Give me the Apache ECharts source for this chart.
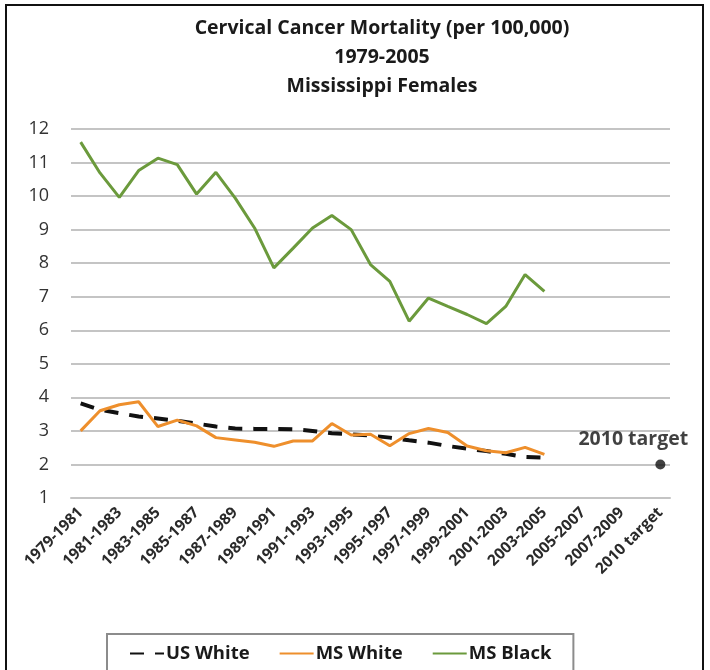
<!DOCTYPE html>
<html>
<head>
<meta charset="utf-8">
<script src="https://cdn.jsdelivr.net/npm/echarts@6/dist/echarts.min.js"></script>
<style>
  html, body { margin: 0; padding: 0; background: #fff; }
  #chart { width: 710px; height: 670px; }
</style>
</head>
<body>
<div id="chart"></div>
<script>
const periods = [
  '1979-1981', '1980-1982', '1981-1983', '1982-1984', '1983-1985', '1984-1986',
  '1985-1987', '1986-1988', '1987-1989', '1988-1990', '1989-1991', '1990-1992',
  '1991-1993', '1992-1994', '1993-1995', '1994-1996', '1995-1997', '1996-1998',
  '1997-1999', '1998-2000', '1999-2001', '2000-2002', '2001-2003', '2002-2004',
  '2003-2005', '2004-2006', '2005-2007', '2006-2008', '2007-2009', '2008-2010',
  '2010 target'
]

const usWhite = [3.82, 3.63, 3.53, 3.43, 3.37, 3.30, 3.22, 3.13, 3.07, 3.06, 3.06, 3.05, 3.0,
  2.93, 2.9, 2.86, 2.8, 2.72, 2.65, 2.55, 2.47, 2.4, 2.32, 2.22, 2.2]
const msWhite = [3.0, 3.6, 3.78, 3.87, 3.13, 3.32, 3.15, 2.8, 2.73, 2.66, 2.54, 2.7, 2.7,
  3.22, 2.88, 2.9, 2.56, 2.92, 3.07, 2.95, 2.55, 2.41, 2.35, 2.51, 2.3]
const msBlack = [11.61, 10.69, 9.96, 10.76, 11.13, 10.94, 10.06, 10.71, 9.94, 9.05, 7.86, 8.45, 9.05,
  9.42, 9.0, 7.96, 7.46, 6.27, 6.96, 6.71, 6.47, 6.2, 6.71, 7.66, 7.16]
const target = { period: '2010 target', value: 2 }

const font = 'Open Sans'
const textColor = '#1a1a1a'
const gridColor = '#c4c4c4'

const chart = echarts.init(document.getElementById('chart'))
chart.setOption({
  animation: false,
  textStyle: { fontFamily: font },
  title: {
    text: 'Cervical Cancer Mortality (per 100,000)\n1979-2005\nMississippi Females',
    left: 377, textAlign: 'center', top: 9,
    textStyle: { fontFamily: font, fontWeight: 'bold', fontSize: 19.5, lineHeight: 29, color: textColor }
  },
  graphic: [{
    type: 'rect',
    shape: { x: 6, y: 5, width: 697, height: 700 },
    style: { fill: 'none', stroke: '#111', lineWidth: 2 },
    silent: true
  }],
  legend: {
    data: ['US White', 'MS White', 'MS Black'],
    left: 107, top: 634,
    padding: [10, 22, 14, 22],
    borderColor: '#8c8c8c', borderWidth: 2,
    itemWidth: 34, itemHeight: 10, itemGap: 29,
    itemStyle: { opacity: 0 },
    textStyle: { fontFamily: font, fontWeight: 'bold', fontSize: 18.5, color: textColor, padding: [0, 0, 0, -3] }
  },
  grid: { left: 71, right: 40, top: 129, bottom: 172 },
  xAxis: {
    type: 'category',
    data: periods,
    boundaryGap: true,
    axisLine: { lineStyle: { color: gridColor, width: 2 } },
    axisTick: { interval: 0, length: 5, lineStyle: { color: gridColor, width: 2 } },
    axisLabel: {
      interval: 1, rotate: 45, margin: 12,
      fontFamily: font, fontSize: 15.5, fontWeight: 'bold', color: '#2a2a2a'
    }
  },
  yAxis: {
    type: 'value',
    min: 1, max: 12, interval: 1,
    axisLine: { show: false },
    axisTick: { show: false },
    axisLabel: { margin: 22, fontFamily: font, fontSize: 18, color: '#333' },
    splitLine: { lineStyle: { color: gridColor, width: 2 } }
  },
  series: [
    {
      name: 'US White', type: 'line', data: usWhite, symbol: 'none',
      itemStyle: { color: '#111' },
      lineStyle: { color: '#111', width: 4, type: [14, 11] }
    },
    {
      name: 'MS White', type: 'line', data: msWhite, symbol: 'none',
      itemStyle: { color: '#ee8f2c' },
      lineStyle: { color: '#ee8f2c', width: 3 }
    },
    {
      name: 'MS Black', type: 'line', data: msBlack, symbol: 'none',
      itemStyle: { color: '#6b9a3c' },
      lineStyle: { color: '#6b9a3c', width: 3 }
    },
    {
      name: 'target', type: 'scatter',
      data: [[target.period, target.value]],
      symbol: 'circle', symbolSize: 10,
      itemStyle: { color: '#111' },
      label: {
        show: true, position: 'top', distance: 10, offset: [-27, 0],
        formatter: '2010 target',
        fontFamily: font, fontSize: 19.5, fontWeight: 'bold', color: '#111'
      }
    }
  ]
})
</script>
</body>
</html>
